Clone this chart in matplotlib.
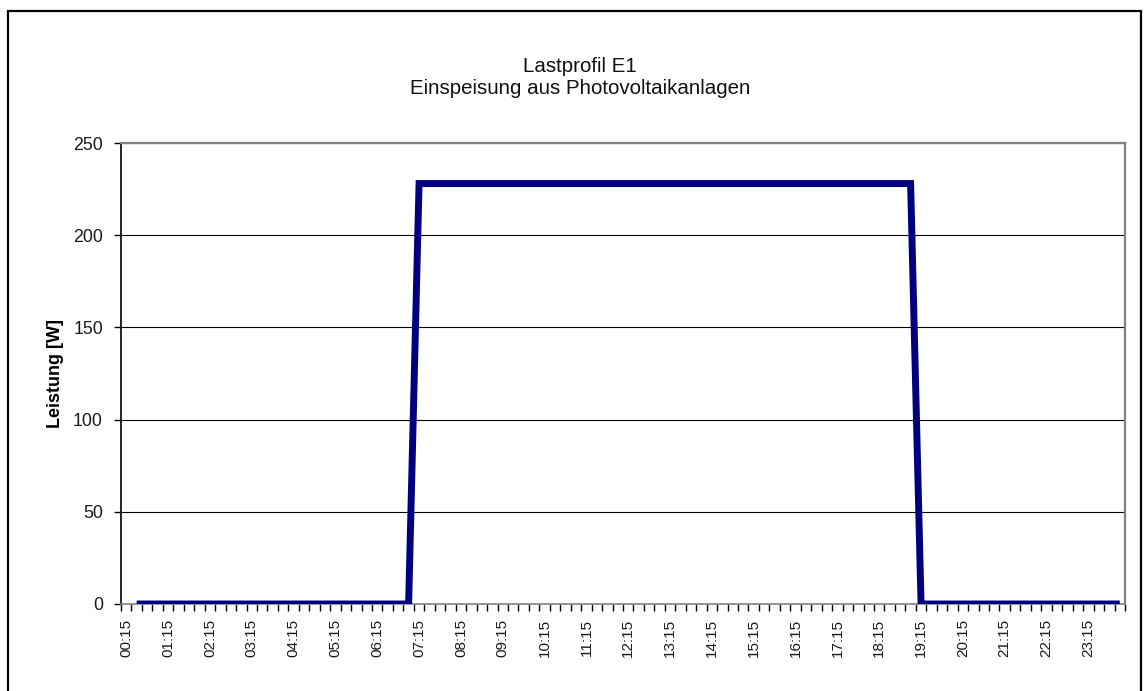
"""Load profile E1: feed-in from photovoltaic systems, quarter-hour resolution."""

import matplotlib

matplotlib.use("Agg")
import matplotlib.pyplot as plt
import numpy as np
from matplotlib.patches import Rectangle

plt.rcParams["font.family"] = ["Liberation Sans", "DejaVu Sans"]

# quarter-hour categories 00:15 .. 24:00
slots = [f"{(m // 60):02d}:{(m % 60):02d}" for m in range(15, 24 * 60 + 15, 15)]

# power per quarter hour [W]; first slot has no value
leistung = [
    None, 0, 0, 0, 0, 0, 0, 0,          # 00:15 - 02:00
    0, 0, 0, 0, 0, 0, 0, 0,             # 02:15 - 04:00
    0, 0, 0, 0, 0, 0, 0, 0,             # 04:15 - 06:00
    0, 0, 0, 0, 228, 228, 228, 228,     # 06:15 - 08:00
    228, 228, 228, 228, 228, 228, 228, 228,
    228, 228, 228, 228, 228, 228, 228, 228,
    228, 228, 228, 228, 228, 228, 228, 228,
    228, 228, 228, 228, 228, 228, 228, 228,
    228, 228, 228, 228, 228, 228, 228, 228,
    228, 228, 228, 228, 0, 0, 0, 0,     # 18:15 - 20:00
    0, 0, 0, 0, 0, 0, 0, 0,             # 20:15 - 22:00
    0, 0, 0, 0, 0, 0, 0, 0,             # 22:15 - 24:00
]

y_ticks = [0, 50, 100, 150, 200, 250]
title_lines = ["Lastprofil E1", "Einspeisung aus Photovoltaikanlagen"]
y_label = "Leistung [W]"

W, H = 1148, 691
fig = plt.figure(figsize=(W / 100, H / 100), dpi=100)
fig.patch.set_facecolor("white")

# outer chart frame
fig.patches.append(Rectangle((8 / W, -0.05), (1141 - 8) / W, 1.05 - 11 / H,
                             transform=fig.transFigure, fill=False,
                             edgecolor="black", linewidth=1.6))

left, right, top, bottom = 121, 1125, 143, 604
ax = fig.add_axes([left / W, 1 - bottom / H, (right - left) / W, (bottom - top) / H])

x = np.arange(len(slots))
y = np.array([np.nan if v is None else v for v in leistung], dtype=float)
ax.plot(x, y, color="#000080", linewidth=5.0, solid_joinstyle="miter",
        solid_capstyle="butt", zorder=3)

ax.set_xlim(-0.5, len(slots) - 0.5)
ax.set_ylim(0, 250)

ax.set_yticks(y_ticks)
ax.set_yticklabels([str(t) for t in y_ticks], fontsize=12.8, color="#1a1a1a")
ax.yaxis.grid(True, color="black", linewidth=0.8)
ax.set_axisbelow(True)
ax.tick_params(axis="y", direction="out", length=5, width=1, pad=8)

label_pos = x[::4]
ax.set_xticks(label_pos)
ax.set_xticklabels([slots[i] for i in label_pos], rotation=90, fontsize=11,
                   color="#1a1a1a")
ax.tick_params(axis="x", which="major", length=0, pad=11)
ax.set_xticks(np.arange(-0.5, len(slots)), minor=True)
ax.tick_params(axis="x", which="minor", direction="out", length=5, width=1)

for side in ("top", "right"):
    ax.spines[side].set_color("#808080")
    ax.spines[side].set_linewidth(1.6)
ax.spines["left"].set_color("black")
ax.spines["left"].set_linewidth(1.2)
ax.spines["bottom"].set_color("#808080")
ax.spines["bottom"].set_linewidth(1.2)

ax.set_ylabel(y_label, fontsize=13, fontweight="bold")
# label anchor is its bottom edge (right side once rotated)
ax.yaxis.set_label_coords(-(left - 64) / (right - left), 0.5)

fig.text(580 / W, 1 - 67 / H, title_lines[0], ha="center", va="center",
         fontsize=14.8, color="#111111")
fig.text(580 / W, 1 - 89 / H, title_lines[1], ha="center", va="center",
         fontsize=14.8, color="#111111")

fig.savefig("out.png", dpi=100)
